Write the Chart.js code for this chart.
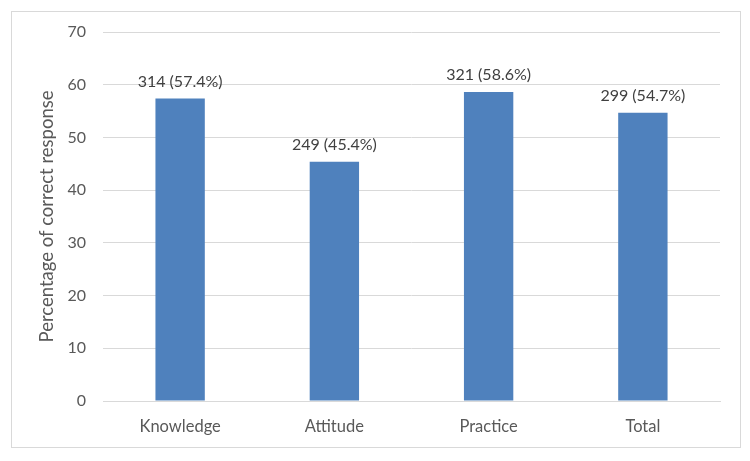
<!DOCTYPE html>
<html>
<head>
<meta charset="utf-8">
<script src="https://cdn.jsdelivr.net/npm/chart.js@4"></script>
<style>
  html, body { margin: 0; padding: 0; background: #fff; }
  #wrap { position: relative; width: 750px; height: 461px; }
  #frame { position: absolute; left: 11px; top: 11px; width: 728px; height: 435px; border: 1px solid #d9d9d9; pointer-events: none; }
  canvas { position: absolute; left: 0; top: 0; }
</style>
</head>
<body>
<div id="wrap">
  <canvas id="chart" width="750" height="461"></canvas>
  <div id="frame"></div>
</div>
<script>
const CATEGORIES = ['Knowledge', 'Attitude', 'Practice', 'Total'];
const PERCENTS = [57.4, 45.4, 58.6, 54.7];
const COUNTS = [314, 249, 321, 299];
const Y_TICKS = [0, 10, 20, 30, 40, 50, 60, 70];

const FONT = 'Lato, "Open Sans", "Noto Sans", sans-serif';
const TEXT = '#595959';
const GRID = '#d9d9d9';

// labels over the bars: "count (pct%)"
const barLabels = {
  id: 'barLabels',
  afterDatasetsDraw(chart) {
    const ctx = chart.ctx;
    const meta = chart.getDatasetMeta(0);
    ctx.save();
    ctx.font = '16px ' + FONT;
    ctx.fillStyle = '#404040';
    ctx.textAlign = 'center';
    ctx.textBaseline = 'middle';
    meta.data.forEach((bar, i) => {
      ctx.fillText(COUNTS[i] + ' (' + PERCENTS[i] + '%)', bar.x, bar.y - 17);
    });
    ctx.restore();
  },
};

new Chart(document.getElementById('chart'), {
  type: 'bar',
  data: {
    labels: CATEGORIES,
    datasets: [{ data: PERCENTS, backgroundColor: '#4f81bd', barPercentage: 0.64, categoryPercentage: 0.5 }],
  },
  options: {
    responsive: false, animation: false,
    layout: { padding: { top: 32, right: 30, left: 0, bottom: 0 } },
    plugins: { legend: { display: false }, tooltip: { enabled: false } },
    scales: {
      x: {
        grid: { display: false },
        border: { color: GRID },
        ticks: { color: TEXT, font: { family: FONT, size: 16.5 }, padding: 8 },
        afterFit: (s) => { s.height = 60; },
      },
      y: {
        min: 0, max: 70,
        afterBuildTicks: (s) => { s.ticks = Y_TICKS.map((v) => ({ value: v })); },
        grid: { color: GRID, drawTicks: false },
        border: { display: false },
        ticks: { color: TEXT, font: { family: FONT, size: 16 }, padding: 17 },
        title: { display: true, text: 'Percentage of correct response', color: TEXT, font: { family: FONT, size: 18.5 }, padding: { top: 36, bottom: 0 } },
        afterFit: (s) => { s.width = 103; },
      },
    },
  },
  plugins: [barLabels],
});
</script>
</body>
</html>
